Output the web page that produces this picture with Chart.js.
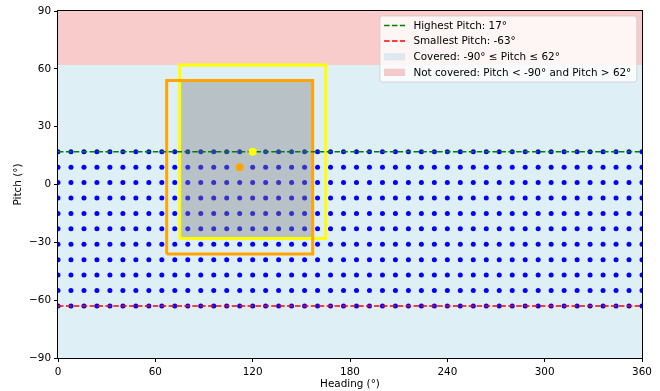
<!DOCTYPE html>
<html><head><meta charset="utf-8">
<script src="https://cdn.jsdelivr.net/npm/chart.js@4"></script>
<style>html,body{margin:0;padding:0;background:#fff}canvas{display:block}</style>
</head><body>
<canvas id="c" width="660" height="391"></canvas>
<script>
// ---- data ----
const headingGrid = [0,8,16,24,32,40,48,56,64,72,80,88,96,104,112,120,128,136,144,152,160,168,176,184,192,200,208,216,224,232,240,248,256,264,272,280,288,296,304,312,320,328,336,344,352,360];
const pitchGrid = [17,9,1,-7,-15,-23,-31,-39,-47,-55,-63];
const highestPitch = 17;
const smallestPitch = -63;
const coveredRange = [-90, 62];
const headingRange = [0, 360];
const pitchRange = [-90, 90];
const yellowBoxHeadings = [75, 165];
const yellowBoxPitches = [-28, 62];
const orangeBoxHeadings = [67, 157];
const orangeBoxPitches = [-36, 54];
const yellowPoint = [120, 17];
const orangePoint = [112, 9];
const headingTicks = [0, 60, 120, 180, 240, 300, 360];
const pitchTicks = [-90, -60, -30, 0, 30, 60, 90];
const legendLabels = ["Highest Pitch: 17°", "Smallest Pitch: -63°", "Covered: -90° ≤ Pitch ≤ 62°", "Not covered: Pitch < -90° and Pitch > 62°"];

const COVERED = 'rgba(173,216,230,0.4)';
const NOTCOVERED = 'rgba(240,128,128,0.4)';
const FS = 10.4;
const FONT = "'DejaVu Sans'";

const gridPoints = [];
pitchGrid.forEach(p => headingGrid.forEach(h => gridPoints.push({x: h, y: p})));
const boxPath = (hs, ps) => [{x:hs[0],y:ps[0]},{x:hs[0],y:ps[1]},{x:hs[1],y:ps[1]},{x:hs[1],y:ps[0]},{x:hs[0],y:ps[0]}];
const interH = [Math.max(yellowBoxHeadings[0], orangeBoxHeadings[0]), Math.min(yellowBoxHeadings[1], orangeBoxHeadings[1])];
const interP = [Math.max(yellowBoxPitches[0], orangeBoxPitches[0]), Math.min(yellowBoxPitches[1], orangeBoxPitches[1])];

const base = {pointRadius: 0, borderWidth: 0, showLine: true, fill: false};
// listed bottom-most first
const layers = [
  Object.assign({}, base, {label: legendLabels[2], data: [{x:headingRange[0],y:coveredRange[1]},{x:headingRange[1],y:coveredRange[1]}], fill: {value: coveredRange[0]}, backgroundColor: COVERED}),
  Object.assign({}, base, {label: legendLabels[3], data: [{x:headingRange[0],y:coveredRange[1]},{x:headingRange[1],y:coveredRange[1]}], fill: 'end', backgroundColor: NOTCOVERED}),
  {label: 'grid', data: gridPoints, showLine: false, pointRadius: 2.5, pointBorderWidth: 0, pointBackgroundColor: '#0000ff', backgroundColor: '#0000ff', borderWidth: 0},
  Object.assign({}, base, {label: 'overlap', data: [{x:interH[0],y:interP[1]},{x:interH[1],y:interP[1]}], fill: {value: interP[0]}, backgroundColor: 'rgba(128,128,128,0.4)'}),
  Object.assign({}, base, {label: 'yellowBox', data: boxPath(yellowBoxHeadings, yellowBoxPitches), borderColor: '#ffff00', borderWidth: 3, borderJoinStyle: 'miter'}),
  Object.assign({}, base, {label: 'orangeBox', data: boxPath(orangeBoxHeadings, orangeBoxPitches), borderColor: '#ffa500', borderWidth: 3, borderJoinStyle: 'miter'}),
  Object.assign({}, base, {label: legendLabels[0], data: [{x:headingRange[0],y:highestPitch},{x:headingRange[1],y:highestPitch}], borderColor: '#008000', borderWidth: 1.5, borderDash: [5.5, 2.4]}),
  Object.assign({}, base, {label: legendLabels[1], data: [{x:headingRange[0],y:smallestPitch},{x:headingRange[1],y:smallestPitch}], borderColor: '#ff0000', borderWidth: 1.5, borderDash: [5.5, 2.4]}),
  {label: 'yellowPoint', data: [{x:yellowPoint[0],y:yellowPoint[1]}], showLine: false, pointRadius: 4, pointBorderWidth: 0, pointBackgroundColor: '#ffff00', borderWidth: 0},
  {label: 'orangePoint', data: [{x:orangePoint[0],y:orangePoint[1]}], showLine: false, pointRadius: 4, pointBorderWidth: 0, pointBackgroundColor: '#ffa500', borderWidth: 0}
];
layers.forEach((d, i) => { d.order = layers.length - i; });

const legendItems = [
  {label: legendLabels[0], type: 'line', color: '#008000'},
  {label: legendLabels[1], type: 'line', color: '#ff0000'},
  {label: legendLabels[2], type: 'patch', color: COVERED},
  {label: legendLabels[3], type: 'patch', color: NOTCOVERED}
];

const framePlugin = {
  id: 'frame',
  afterDatasetsDraw(chart) {
    const {ctx, chartArea: a} = chart;
    ctx.save();
    ctx.strokeStyle = '#000';
    ctx.lineWidth = 1;
    ctx.strokeRect(Math.round(a.left) - 0.5, Math.round(a.top) - 0.5, Math.round(a.right - a.left) + 1, Math.round(a.bottom - a.top) + 1);
    ctx.restore();
  }
};

const legendPlugin = {
  id: 'inlineLegend',
  afterDraw(chart) {
    const {ctx, chartArea: a} = chart;
    ctx.save();
    ctx.font = FS + 'px ' + FONT;
    const textW = Math.max(...legendItems.map(it => ctx.measureText(it.label).width));
    const padL = 4.2, handleLen = 21, gap = 8.3, padR = 5.5;
    const w = padL + handleLen + gap + textW + padR;
    const h = 66;
    const right = a.right - 5.2, top = a.top + 5;
    const left = right - w;
    const r = 2.5;
    ctx.beginPath();
    ctx.moveTo(left + r, top);
    ctx.arcTo(right, top, right, top + h, r);
    ctx.arcTo(right, top + h, left, top + h, r);
    ctx.arcTo(left, top + h, left, top, r);
    ctx.arcTo(left, top, right, top, r);
    ctx.closePath();
    ctx.fillStyle = 'rgba(255,255,255,0.8)';
    ctx.fill();
    ctx.strokeStyle = 'rgba(204,204,204,0.8)';
    ctx.lineWidth = 1;
    ctx.stroke();
    legendItems.forEach((it, i) => {
      const cy = top + 9.5 + i * 15.6;
      const hx = left + padL;
      if (it.type === 'line') {
        ctx.beginPath();
        ctx.setLineDash([5.5, 2.4]);
        ctx.strokeStyle = it.color;
        ctx.lineWidth = 1.5;
        ctx.moveTo(hx, cy);
        ctx.lineTo(hx + handleLen, cy);
        ctx.stroke();
        ctx.setLineDash([]);
      } else {
        ctx.fillStyle = it.color;
        ctx.fillRect(hx, cy - 3.6, handleLen, 7.3);
      }
      ctx.fillStyle = '#000';
      ctx.textBaseline = 'middle';
      ctx.textAlign = 'left';
      ctx.fillText(it.label, hx + handleLen + gap, cy + 0.5);
    });
    ctx.restore();
  }
};

Chart.defaults.font.family = FONT;
Chart.defaults.font.size = FS;
Chart.defaults.color = '#000';

new Chart(document.getElementById('c'), {
  type: 'line',
  data: {datasets: layers},
  options: {
    responsive: false,
    animation: false,
    events: [],
    layout: {padding: {left: 0, top: 11, right: 18, bottom: 0}},
    plugins: {legend: {display: false}, tooltip: {enabled: false}},
    scales: {
      x: {
        type: 'linear', min: headingRange[0], max: headingRange[1],
        afterBuildTicks: s => { s.ticks = headingTicks.map(v => ({value: v})); },
        afterFit: s => { s.height = 33; },
        ticks: {padding: 4.5, maxRotation: 0, autoSkip: false, color: '#000', font: {size: FS}},
        grid: {drawOnChartArea: false, drawTicks: true, tickLength: 4, tickColor: '#000', tickWidth: 1},
        border: {display: false},
        title: {display: true, text: 'Heading (°)', color: '#000', font: {size: FS}, padding: {top: 0, bottom: 0}}
      },
      y: {
        type: 'linear', min: pitchRange[0], max: pitchRange[1],
        afterBuildTicks: s => { s.ticks = pitchTicks.map(v => ({value: v})); },
        afterFit: s => { s.width = 58; },
        ticks: {padding: 3, autoSkip: false, color: '#000', font: {size: FS}, callback: v => String(v).replace('-', '\u2212')},
        grid: {drawOnChartArea: false, drawTicks: true, tickLength: 4, tickColor: '#000', tickWidth: 1},
        border: {display: false},
        title: {display: true, text: 'Pitch (°)', color: '#000', font: {size: FS}, padding: {top: 12, bottom: 0}}
      }
    }
  },
  plugins: [framePlugin, legendPlugin]
});
</script>
</body></html>
